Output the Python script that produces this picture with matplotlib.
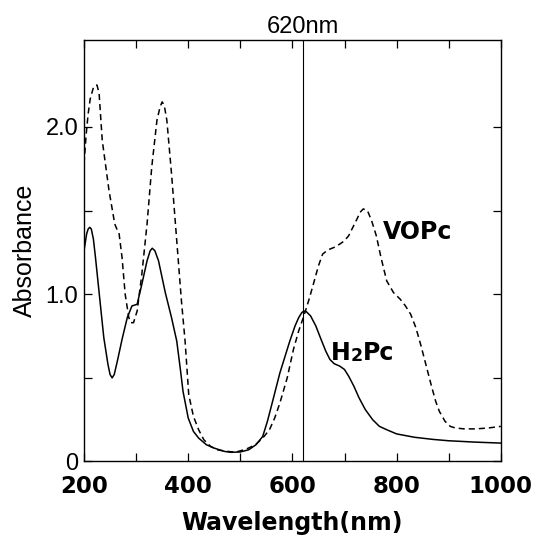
import matplotlib

matplotlib.use("Agg")
import matplotlib.pyplot as plt

# H2Pc absorbance (solid)
h2pc_nm = [200, 205, 208, 211, 214, 218, 222, 232, 238, 246, 250, 254, 258, 264,
           273, 283, 292, 302, 311, 321, 327, 331, 336, 343, 356, 368, 378, 385,
           390, 400, 410, 420, 435, 450, 470, 483, 500, 516, 530, 543, 552, 562,
           576, 595, 605, 612, 618, 622, 627, 635, 645, 655, 664, 672, 680, 691,
           700, 708, 718, 728, 740, 754, 767, 781, 800, 834, 870, 900, 950, 1000]
h2pc_abs = [1.26, 1.36, 1.39, 1.40, 1.39, 1.33, 1.22, 0.92, 0.74, 0.58, 0.52, 0.50,
            0.52, 0.60, 0.73, 0.86, 0.93, 0.94, 1.06, 1.20, 1.26, 1.275, 1.26, 1.20,
            1.01, 0.86, 0.72, 0.55, 0.42, 0.26, 0.18, 0.14, 0.10, 0.08, 0.06, 0.055,
            0.057, 0.07, 0.10, 0.15, 0.24, 0.36, 0.53, 0.72, 0.81, 0.86, 0.89, 0.90,
            0.895, 0.87, 0.81, 0.73, 0.66, 0.61, 0.585, 0.57, 0.55, 0.51, 0.45, 0.38,
            0.31, 0.25, 0.21, 0.19, 0.165, 0.145, 0.132, 0.124, 0.116, 0.11]

# VOPc absorbance (dashed)
vopc_nm = [200, 204, 208, 212, 218, 222, 225, 229, 235, 248, 259, 263, 267, 273,
           279, 286, 290, 295, 302, 311, 321, 330, 340, 346, 350, 354, 359, 368,
           378, 387, 394, 401, 410, 420, 430, 443, 456, 470, 483, 496, 512, 529,
           543, 556, 566, 576, 590, 602, 612, 622, 632, 642, 650, 658, 666, 672,
           680, 691, 700, 708, 716, 724, 730, 736, 744, 752, 761, 770, 781, 794,
           807, 817, 827, 837, 847, 857, 867, 875, 882, 893, 903, 913, 930, 952,
           975, 1000]
vopc_abs = [1.78, 1.95, 2.08, 2.17, 2.235, 2.25, 2.25, 2.20, 1.92, 1.62, 1.42, 1.39,
            1.37, 1.22, 1.00, 0.86, 0.83, 0.83, 0.90, 1.12, 1.42, 1.76, 2.04, 2.12,
            2.15, 2.13, 2.04, 1.72, 1.32, 0.96, 0.72, 0.40, 0.27, 0.19, 0.13, 0.09,
            0.07, 0.062, 0.058, 0.06, 0.075, 0.10, 0.14, 0.19, 0.26, 0.35, 0.50, 0.67,
            0.78, 0.87, 0.97, 1.08, 1.17, 1.24, 1.26, 1.27, 1.28, 1.30, 1.32, 1.35,
            1.40, 1.45, 1.49, 1.51, 1.50, 1.44, 1.35, 1.22, 1.08, 1.01, 0.97, 0.93,
            0.88, 0.80, 0.69, 0.57, 0.45, 0.36, 0.30, 0.24, 0.21, 0.20, 0.195, 0.195,
            0.20, 0.21]

x_ticks = [200, 300, 400, 500, 600, 700, 800, 900, 1000]
x_labels = ["200", "", "400", "", "600", "", "800", "", "1000"]
y_ticks = [0, 0.5, 1.0, 1.5, 2.0]
y_labels = ["0", "", "1.0", "", "2.0"]

fig = plt.figure(figsize=(5.42, 5.37), dpi=100)
ax = fig.add_axes([0.155, 0.1406, 0.769, 0.7849])

ax.plot(h2pc_nm, h2pc_abs, color="black", lw=1.1)
ax.plot(vopc_nm, vopc_abs, color="black", lw=1.1, dashes=(4.0, 2.6))
ax.axvline(620, color="black", lw=0.8)

ax.set_xlim(200, 1000)
ax.set_ylim(0, 2.52)
ax.set_xticks(x_ticks)
ax.set_xticklabels(x_labels, fontfamily="DejaVu Sans", fontweight="bold", fontsize=16.5)
ax.set_yticks(y_ticks)
ax.set_yticklabels(y_labels, fontfamily="Liberation Sans", fontsize=17)
ax.tick_params(direction="in", length=6, width=0.9, top=True, right=True)
ax.tick_params(axis="x", pad=10)
ax.tick_params(axis="y", pad=4)
for s in ax.spines.values():
    s.set_linewidth(1.0)

ax.set_xlabel("Wavelength(nm)", fontfamily="DejaVu Sans", fontweight="bold",
              fontsize=17, labelpad=9)
ax.set_ylabel("Absorbance", fontfamily="Liberation Sans", fontsize=18, labelpad=6)

ax.text(620, 1.005, "620nm", transform=ax.get_xaxis_transform(), ha="center",
        va="bottom", fontfamily="Liberation Sans", fontsize=17)

ax.text(773, 1.37, "VOPc", ha="left", va="center", fontfamily="DejaVu Sans",
        fontweight="bold", fontsize=17)

# H2Pc with a small, baseline-aligned "2"
h = ax.text(674, 0.605, "H", ha="left", va="baseline", fontfamily="DejaVu Sans",
            fontweight="bold", fontsize=17)
two = ax.annotate("2", xy=(1, 0), xycoords=h, ha="left", va="bottom",
                  fontfamily="DejaVu Sans", fontweight="bold", fontsize=12.5)
ax.annotate("Pc", xy=(1, 0), xycoords=two, ha="left", va="bottom",
            fontfamily="DejaVu Sans", fontweight="bold", fontsize=17)

fig.savefig("out.png", dpi=100)
